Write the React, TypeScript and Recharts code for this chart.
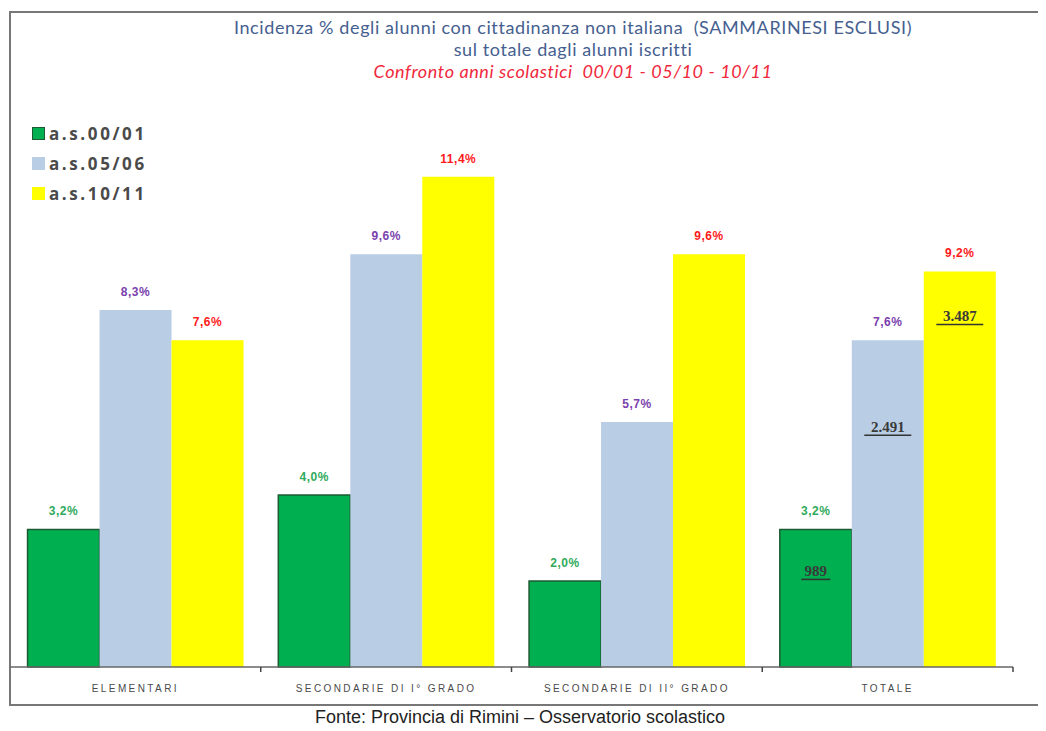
import { Bar, BarChart, LabelList, XAxis, YAxis } from "recharts";

const categories = [
  "ELEMENTARI",
  "SECONDARIE DI I° GRADO",
  "SECONDARIE DI II° GRADO",
  "TOTALE",
];
const as0001 = [3.2, 4.0, 2.0, 3.2];
const as0506 = [8.3, 9.6, 5.7, 7.6];
const as1011 = [7.6, 11.4, 9.6, 9.2];
// student counts printed inside the TOTALE bars only
const count0001 = ["", "", "", "989"];
const count0506 = ["", "", "", "2.491"];
const count1011 = ["", "", "", "3.487"];

const data = categories.map((name, i) => ({
  name,
  a: as0001[i],
  b: as0506[i],
  c: as1011[i],
  na: count0001[i],
  nb: count0506[i],
  nc: count1011[i],
}));

const series = [
  { key: "a", count: "na", name: "a.s.00/01", fill: "#00b050", stroke: "#1d5a32", label: "#2faa5c", countDy: 42 },
  { key: "b", count: "nb", name: "a.s.05/06", fill: "#b9cde5", stroke: "none", label: "#7a3fae", countDy: 87 },
  { key: "c", count: "nc", name: "a.s.10/11", fill: "#ffff00", stroke: "none", label: "#ff1a1a", countDy: 45 },
];

const pct = (v: any) => Number(v).toFixed(1).replace(".", ",") + "%";

const AxisTick = ({ x, y, payload }: any) => {
  const half = payload?.offset ?? 125;
  return (
    <g>
      <line x1={x + half} x2={x + half} y1={y - 8} y2={y - 3} stroke="#444" strokeWidth={1.5} />
      <text x={x} y={y + 17} textAnchor="middle" fontSize={10} letterSpacing={2.4} fill="#4a4a4a"
        fontFamily="'Liberation Sans', Arial, sans-serif">
        {payload.value}
      </text>
    </g>
  );
};

const CountLabel = (dy: number) => (props: any) => {
  const { x, y, width, value } = props;
  if (!value) return null;
  const cx = x + width / 2;
  const w = value.length * 9;
  return (
    <g>
      <text x={cx} y={y + dy + 5} textAnchor="middle" fontSize={15} fontWeight={700}
        fill="#3a3a3a" fontFamily="'Liberation Serif', serif">
        {value}
      </text>
      <line x1={cx - w / 2 - 1} x2={cx + w / 2 + 1} y1={y + dy + 8} y2={y + dy + 8} stroke="#333" strokeWidth={1.5} />
    </g>
  );
};

export default function App() {
  return (
    <div style={{ position: "relative", width: 1046, height: 731, margin: -8, background: "#fff", overflow: "hidden" }}>
      <div style={{
        position: "absolute", left: 9, top: 11, width: 1034, height: 695,
        border: "2px solid #777", borderRight: "1px solid #ddd", boxSizing: "border-box",
      }} />
      <div style={{
        position: "absolute", left: 0, width: 1146, top: 16, textAlign: "center",
        fontFamily: "Lato, 'Open Sans', sans-serif", fontSize: 18, letterSpacing: 0.6,
        lineHeight: "22px", color: "#45608f",
      }}>
        <div>Incidenza % degli alunni con cittadinanza non italiana&nbsp;&nbsp;(SAMMARINESI ESCLUSI)</div>
        <div>sul totale dagli alunni iscritti</div>
        <div style={{ color: "#f0283c", fontStyle: "italic" }}>Confronto anni scolastici&nbsp;&nbsp;00/01 - 05/10 - 10/11</div>
      </div>
      <div style={{
        position: "absolute", left: 32, top: 118,
        fontFamily: "'Open Sans', sans-serif", fontWeight: 700, fontSize: 17, letterSpacing: 2.6, color: "#4a4a4a",
      }}>
        {series.map((s) => (
          <div key={s.key} style={{ display: "flex", alignItems: "center", height: 30 }}>
            <span style={{
              width: 11, height: 11, background: s.fill, display: "inline-block", marginRight: 4,
              border: "1px solid " + (s.stroke === "none" ? s.fill : s.stroke),
            }} />
            {s.name}
          </div>
        ))}
      </div>
      <div style={{ position: "absolute", left: 0, top: 0 }}>
        <BarChart width={1046} height={731} data={data} barGap={0} barCategoryGap="7%"
          margin={{ top: 151, right: 33, bottom: 24, left: 10 }}>
          <XAxis dataKey="name" height={40} axisLine={{ stroke: "#666", strokeWidth: 1.5 }}
            tickLine={false} tick={<AxisTick />} interval={0} />
          <YAxis hide domain={[0, 12]} />
          {series.map((s) => (
            <Bar key={s.key} dataKey={s.key} name={s.name} fill={s.fill}
              stroke={s.stroke} strokeWidth={s.stroke === "none" ? 0 : 1.5} isAnimationActive={false}>
              <LabelList dataKey={s.key} position="top" offset={14} formatter={pct}
                fill={s.label} fontSize={12} fontWeight={700} letterSpacing={0.5}
                fontFamily="'Liberation Sans', Arial, sans-serif" />
              <LabelList dataKey={s.count} content={CountLabel(s.countDy)} />
            </Bar>
          ))}
        </BarChart>
      </div>
      <div style={{
        position: "absolute", left: 0, width: 1040, top: 708, textAlign: "center",
        fontFamily: "'Liberation Sans', Arial, sans-serif", fontSize: 18, lineHeight: "18px", color: "#222",
      }}>
        Fonte: Provincia di Rimini – Osservatorio scolastico
      </div>
    </div>
  );
}
